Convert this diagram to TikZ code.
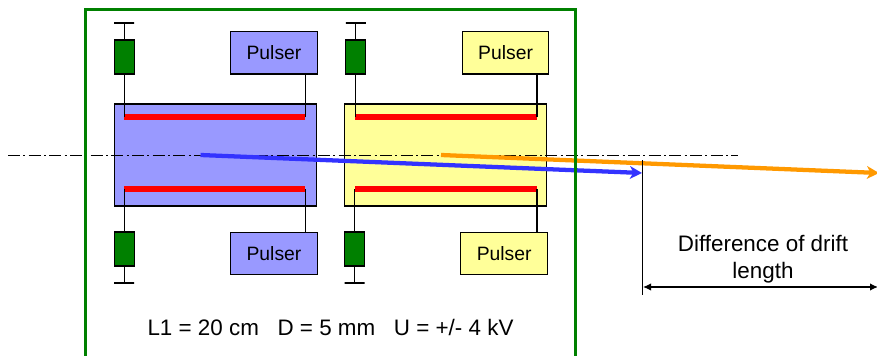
\documentclass[tikz,border=0pt]{standalone}
\usepackage{fontspec}
\setmainfont{Liberation Sans}
\usetikzlibrary{arrows.meta}
\definecolor{boxblue}{HTML}{9999FF}
\definecolor{boxyellow}{HTML}{FFFF99}
\definecolor{resgreen}{HTML}{008000}
\definecolor{beamblue}{HTML}{3333FF}
\definecolor{beamorange}{HTML}{FF9900}
\tikzset{
  px/.style={x=0.75pt,y=-0.75pt},
  blockbox/.style={draw=black,line width=0.8pt,inner sep=0pt,minimum width=#1,minimum height=76.5pt},
  pulserbox/.style={draw=black,line width=0.8pt,inner sep=0pt,minimum width=65pt,minimum height=32pt,font=\fontsize{14.5}{17}\selectfont},
  resbox/.style={draw=black,fill=resgreen,line width=0.8pt,inner sep=0pt,minimum width=15pt,minimum height=25.5pt},
  tbar/.style={draw=black,line width=0.8pt,inner sep=0pt,minimum width=15pt,minimum height=0pt,outer sep=0pt},
  plate/.style={fill=red,inner sep=0pt,minimum width=#1,minimum height=4.5pt},
  wire/.style={black,line width=0.8pt},
  centerline/.style={black,line width=0.6pt,dash pattern=on 9pt off 2.5pt on 1.5pt off 2.5pt},
  beam/.style={line width=3.2pt,-{Stealth[length=9pt,width=9.5pt,inset=2.5pt]}},
  dim/.style={black,line width=0.8pt,{Latex[length=6pt,width=5.5pt]}-{Latex[length=6pt,width=5.5pt]}},
  label/.style={font=\fontsize{16.8}{20.4}\selectfont,align=center,inner sep=0pt}
}
\begin{document}
\begin{tikzpicture}[px]
\useasboundingbox (0,0) rectangle (877,356);
\clip (0,0) rectangle (877,356);
% drift tubes
\node[blockbox=151.5pt,fill=boxblue] (tubeA) at (215.2,155) {};
\node[blockbox=151.5pt,fill=boxyellow] (tubeB) at (445.5,155) {};
% plates
\node[plate=136pt] (plateAt) at (214.8,117.3) {};
\node[plate=136pt] (plateAb) at (214.8,188.7) {};
\node[plate=136.5pt] (plateBt) at (445.7,117.3) {};
\node[plate=136.5pt] (plateBb) at (445.7,188.7) {};
% pulsers
\node[pulserbox,fill=boxblue] (pulAt) at (274,52.7) {Pulser};
\node[pulserbox,fill=boxblue] (pulAb) at (274,253.5) {Pulser};
\node[pulserbox,fill=boxyellow] (pulBt) at (505.6,52.7) {Pulser};
\node[pulserbox,fill=boxyellow] (pulBb) at (504.2,253.5) {Pulser};
% resistors
\node[resbox] (resAt) at (124.2,57) {};
\node[resbox] (resAb) at (124.2,249) {};
\node[resbox] (resBt) at (355.8,57) {};
\node[resbox] (resBb) at (354.7,249) {};
\node[tbar] (barAt) at (124.2,23) {};
\node[tbar] (barAb) at (124.2,283) {};
\node[tbar] (barBt) at (355.8,23) {};
\node[tbar] (barBb) at (354.7,283) {};
% wires
\draw[wire] (barAt) -- (resAt.north);
\draw[wire] (resAt.south) -- (resAt.south |- plateAt.west);
\draw[wire] (barAb) -- (resAb.south);
\draw[wire] (resAb.north) -- (resAb.north |- plateAb.west);
\draw[wire] (barBt) -- (resBt.north);
\draw[wire] (resBt.south) -- (resBt.south |- plateBt.west);
\draw[wire] (barBb) -- (resBb.south);
\draw[wire] (resBb.north) -- (resBb.north |- plateBb.west);
\draw[wire] (pulAt.south -| plateAt.east) -- (plateAt.east);
\draw[wire] (pulAb.north -| plateAb.east) -- (plateAb.east);
\draw[wire] (pulBt.south -| plateBt.east) -- (plateBt.east);
\draw[wire] (pulBb.north -| plateBb.east) -- (plateBb.east);
% centre line
\coordinate (axisL) at (8,155);
\coordinate (axisR) at (738,155);
\draw[centerline] (axisL) -- (axisR);
% beams
\coordinate (blueS) at (200.5,155);
\coordinate (blueE) at (642,173);
\coordinate (orS) at (441,155);
\coordinate (orE) at (879,173);
\draw[beam,beamorange] (orS) -- (orE);
\draw[beam,beamblue] (blueS) -- (blueE);
% dimension
\coordinate (dimT) at (642.5,160);
\coordinate (dimB) at (642.5,295);
\coordinate (dimL) at (643,287);
\coordinate (dimR) at (878,287);
\draw[wire] (dimT) -- (dimB);
\draw[dim] (dimL) -- (dimR);
\node[label] (difflabel) at (763,259) {Difference of drift\\length};
\node[label] (params) at (330.5,327.5) {L1 = 20 cm\ \ \ D = 5 mm\ \ \ U = +/- 4 kV};
% frame
\node[draw=resgreen,line width=2.25pt,inner sep=0pt,minimum width=367.5pt,minimum height=280pt] (frame) at (330.3,196) {};
\end{tikzpicture}
\end{document}
